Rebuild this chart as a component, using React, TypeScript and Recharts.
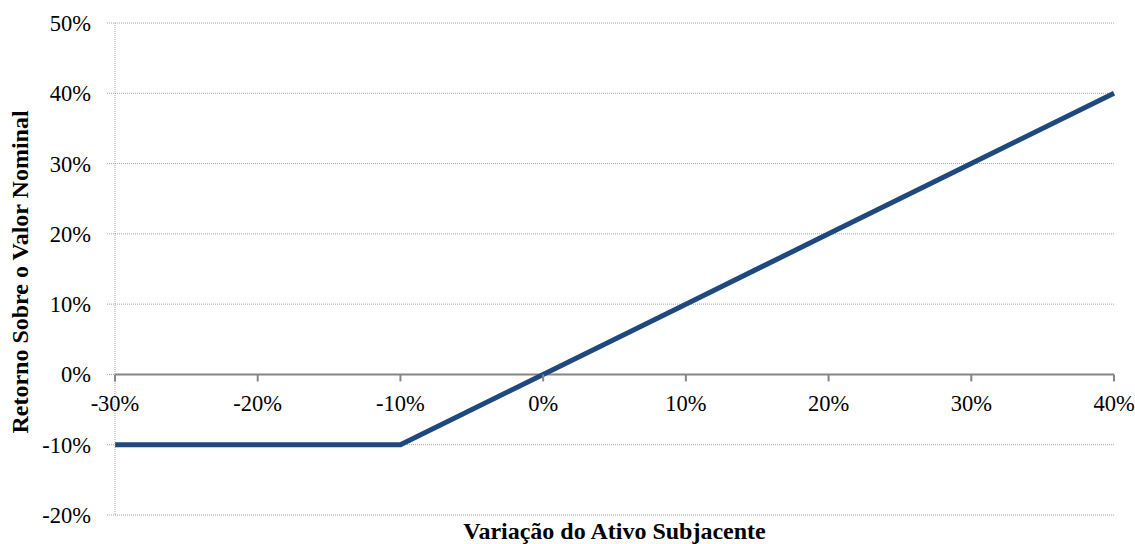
import { LineChart, Line, XAxis, YAxis, CartesianGrid, ReferenceLine, ReferenceDot } from 'recharts';

const variacao = [-0.3, -0.2, -0.1, 0, 0.1, 0.2, 0.3, 0.4];
const retorno = [-0.1, -0.1, -0.1, 0, 0.1, 0.2, 0.3, 0.4];
const xTicks = [-0.3, -0.2, -0.1, 0, 0.1, 0.2, 0.3, 0.4];
const yTicks = [-0.2, -0.1, 0, 0.1, 0.2, 0.3, 0.4, 0.5];

const data = variacao.map((v, i) => ({ x: v, y: retorno[i] }));

const font = 'Liberation Serif, serif';
const pct = (v: number) => `${Math.round(v * 100)}%`;

const XTick = ({ cx, cy, label }: any) => (
  <g>
    <line x1={cx} y1={cy} x2={cx} y2={cy + 7} stroke="#868686" strokeWidth={2} />
    <text x={cx} y={cy + 37} textAnchor="middle" style={{ fontFamily: font }} fontSize={22.5} fill="#000">
      {label}
    </text>
  </g>
);

const YTitle = (props: any) => {
  const { viewBox } = props;
  const x = viewBox.x + 20;
  const y = viewBox.y + viewBox.height / 2 + 3;
  return (
    <text
      x={x}
      y={y}
      transform={`rotate(-90, ${x}, ${y})`}
      textAnchor="middle"
      dominantBaseline="central"
      style={{ fontFamily: font }}
      fontSize={24}
      fontWeight="bold"
      fill="#000"
    >
      Retorno Sobre o Valor Nominal
    </text>
  );
};

export default function App() {
  return (
    <div style={{ position: 'absolute', left: 0, top: 0, background: '#fff', fontFamily: font }}>
      <LineChart
        width={1135}
        height={544}
        data={data}
        margin={{ top: 23, right: 21, left: 0, bottom: 0 }}
        style={{ fontFamily: font }}
      >
        <CartesianGrid vertical={false} stroke="#a6a6a6" strokeDasharray="1 1" />
        <XAxis
          dataKey="x"
          type="number"
          domain={[-0.3, 0.4]}
          ticks={xTicks}
          tick={false}
          axisLine={false}
          tickLine={false}
          height={29}
          label={{
            value: 'Variação do Ativo Subjacente',
            position: 'insideBottom',
            offset: 5,
            fill: '#000',
            fontSize: 24,
            fontWeight: 'bold',
            style: { fontFamily: font },
          }}
        />
        <YAxis
          type="number"
          domain={[-0.2, 0.5]}
          ticks={yTicks}
          tickFormatter={pct}
          width={115}
          axisLine={{ stroke: '#a6a6a6', strokeDasharray: '1 1' }}
          tickLine={{ stroke: '#a6a6a6', strokeDasharray: '1 1' }}
          tickSize={8}
          tickMargin={16}
          tick={{ fill: '#000', fontSize: 22.5, style: { fontFamily: font } }}
          label={<YTitle />}
        />
        <ReferenceLine y={0} stroke="#868686" strokeWidth={2} />
        {xTicks.map((t) => (
          <ReferenceDot
            key={t}
            x={t}
            y={0}
            r={0}
            shape={(p: any) => <XTick {...p} label={pct(t)} />}
          />
        ))}
        <Line
          dataKey="y"
          type="linear"
          stroke="#1F497D"
          strokeWidth={5}
          dot={false}
          isAnimationActive={false}
        />
      </LineChart>
    </div>
  );
}
